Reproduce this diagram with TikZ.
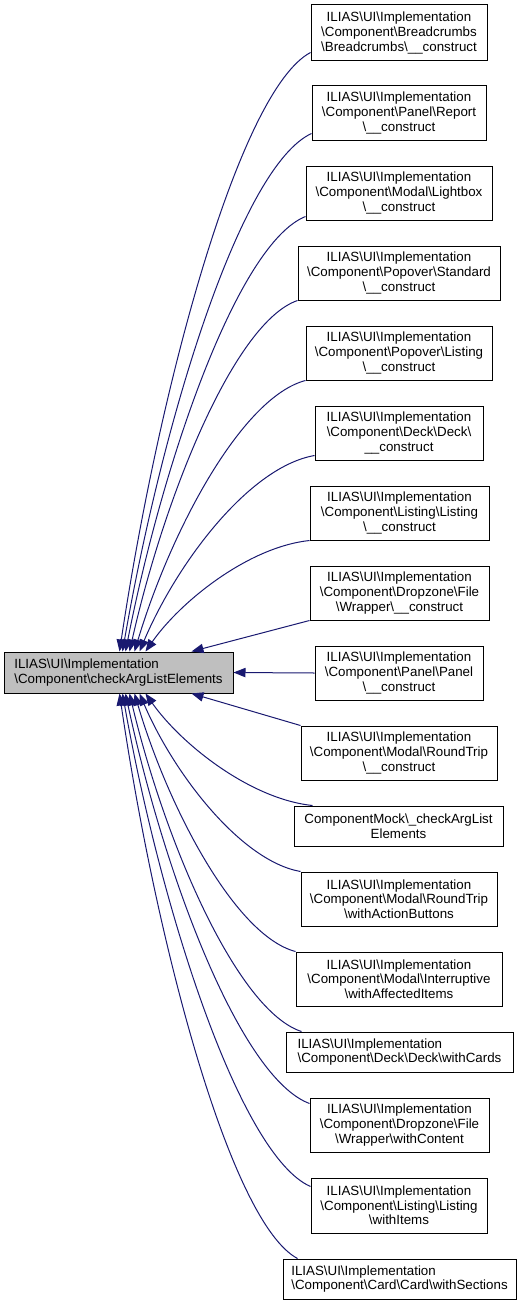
\documentclass[tikz,border=0pt]{standalone}
\usepackage{fontspec}
\setmainfont{Liberation Sans}
\usetikzlibrary{arrows.meta,calc}
\definecolor{edgecol}{HTML}{191970}
\definecolor{mainfill}{HTML}{BFBFBF}
\newcommand{\bs}{\textbackslash}
\newcommand{\mybox}[8]{\node[boxst,#8,align=#6,minimum width={(#4-#2)*0.75pt},minimum height={(#5-#3)*0.75pt}] (#1) at ({(#2+#4)/2},{(#3+#5)/2}) {#7};}
\tikzset{
  boxst/.style={draw=black, line width=0.75pt, fill=white, inner sep=0pt,
    font=\fontsize{10pt}{11pt}\selectfont},
  edge/.style={draw=edgecol, line width=0.75pt, -{Triangle[length=9pt,width=7pt]}}
}
\begin{document}
\begin{tikzpicture}[x=0.75pt,y=-0.75pt]
\useasboundingbox (0,0) rectangle (523,1306);
% main node
\mybox{main}{4}{652}{233}{693}{left}{ILIAS\bs UI\bs Implementation\\\bs Component\bs checkArgListElements}{fill=mainfill}
% callers
\mybox{b1}{311}{5}{487}{61}{center}{ILIAS\bs UI\bs Implementation\\\bs Component\bs Breadcrumbs\\\bs Breadcrumbs\bs\_\_construct}{}
\mybox{b2}{312}{86}{486}{140}{center}{ILIAS\bs UI\bs Implementation\\\bs Component\bs Panel\bs Report\\\bs\_\_construct}{}
\mybox{b3}{306}{166}{492}{220}{center}{ILIAS\bs UI\bs Implementation\\\bs Component\bs Modal\bs Lightbox\\\bs\_\_construct}{}
\mybox{b4}{298}{246}{500}{300}{center}{ILIAS\bs UI\bs Implementation\\\bs Component\bs Popover\bs Standard\\\bs\_\_construct}{}
\mybox{b5}{306}{326}{492}{380}{center}{ILIAS\bs UI\bs Implementation\\\bs Component\bs Popover\bs Listing\\\bs\_\_construct}{}
\mybox{b6}{315}{406}{483}{460}{center}{ILIAS\bs UI\bs Implementation\\\bs Component\bs Deck\bs Deck\bs\\\_\_construct}{}
\mybox{b7}{310}{486}{489}{540}{center}{ILIAS\bs UI\bs Implementation\\\bs Component\bs Listing\bs Listing\\\bs\_\_construct}{}
\mybox{b8}{310}{566}{489}{620}{center}{ILIAS\bs UI\bs Implementation\\\bs Component\bs Dropzone\bs File\\\bs Wrapper\bs\_\_construct}{}
\mybox{b9}{315}{646}{483}{700}{center}{ILIAS\bs UI\bs Implementation\\\bs Component\bs Panel\bs Panel\\\bs\_\_construct}{}
\mybox{b10}{301}{726}{497}{780}{center}{ILIAS\bs UI\bs Implementation\\\bs Component\bs Modal\bs RoundTrip\\\bs\_\_construct}{}
\mybox{b11}{294}{806}{503}{846}{center}{ComponentMock\bs\_checkArgList\\Elements}{}
\mybox{b12}{301}{872}{497}{926}{center}{ILIAS\bs UI\bs Implementation\\\bs Component\bs Modal\bs RoundTrip\\\bs withActionButtons}{}
\mybox{b13}{296}{952}{502}{1006}{center}{ILIAS\bs UI\bs Implementation\\\bs Component\bs Modal\bs Interruptive\\\bs withAffectedItems}{}
\mybox{b14}{286}{1032}{513}{1072}{left}{ILIAS\bs UI\bs Implementation\\\bs Component\bs Deck\bs Deck\bs withCards}{}
\mybox{b15}{310}{1098}{489}{1152}{center}{ILIAS\bs UI\bs Implementation\\\bs Component\bs Dropzone\bs File\\\bs Wrapper\bs withContent}{}
\mybox{b16}{311}{1178}{487}{1233}{center}{ILIAS\bs UI\bs Implementation\\\bs Component\bs Listing\bs Listing\\\bs withItems}{}
\mybox{b17}{283}{1259}{516}{1299}{left}{ILIAS\bs UI\bs Implementation\\\bs Component\bs Card\bs Card\bs withSections}{}
% edges (top side)
\draw[edge] ($(b1.south west)+(0,-9)$) .. controls (240,90) and (160,382) .. ($(main.north west)+(116,0)$);
\draw[edge] ($(b2.south west)+(0,-7)$) .. controls (241,166) and (163,418) .. ($(main.north west)+(119,0)$);
\draw[edge] ($(b3.south west)+(0,-4)$) .. controls (239,243) and (164,456) .. ($(main.north west)+(122,0)$);
\draw[edge] (b4.south west) .. controls (235,322) and (165,494) .. ($(main.north west)+(126,0)$);
\draw[edge] (b5.south west) .. controls (242,397) and (171,530) .. ($(main.north west)+(131,0)$);
\draw[edge] ($(b6.south west)+(0,-5)$) .. controls (249,467) and (177,563) .. ($(main.north west)+(136,0)$);
\draw[edge] (b7.south west) .. controls (248,547) and (180,602) .. ($(main.north west)+(142,0)$);
\draw[edge] (b8.south west) -- ($(main.north west)+(188,0)$);
\draw[edge] (b9.west) -- (main.east);
% edges (bottom side)
\draw[edge] (b10.north west) -- ($(main.south west)+(188,0)$);
\draw[edge] ($(b11.north west)+(19,0)$) .. controls (250,799) and (181,744) .. ($(main.south west)+(142,0)$);
\draw[edge] (b12.north west) .. controls (241,861) and (174,774) .. ($(main.south west)+(136,0)$);
\draw[edge] (b13.north west) .. controls (236,936) and (169,810) .. ($(main.south west)+(131,0)$);
\draw[edge] ($(b14.north west)+(16,0)$) .. controls (238,1011) and (166,846) .. ($(main.south west)+(126,0)$);
\draw[edge] ($(b15.north west)+(0,6)$) .. controls (241,1078) and (165,878) .. ($(main.south west)+(122,0)$);
\draw[edge] ($(b16.north west)+(0,9)$) .. controls (241,1156) and (162,915) .. ($(main.south west)+(119,0)$);
\draw[edge] ($(b17.north west)+(15,0)$) .. controls (231,1223) and (157,948) .. ($(main.south west)+(116,0)$);
\end{tikzpicture}
\end{document}
